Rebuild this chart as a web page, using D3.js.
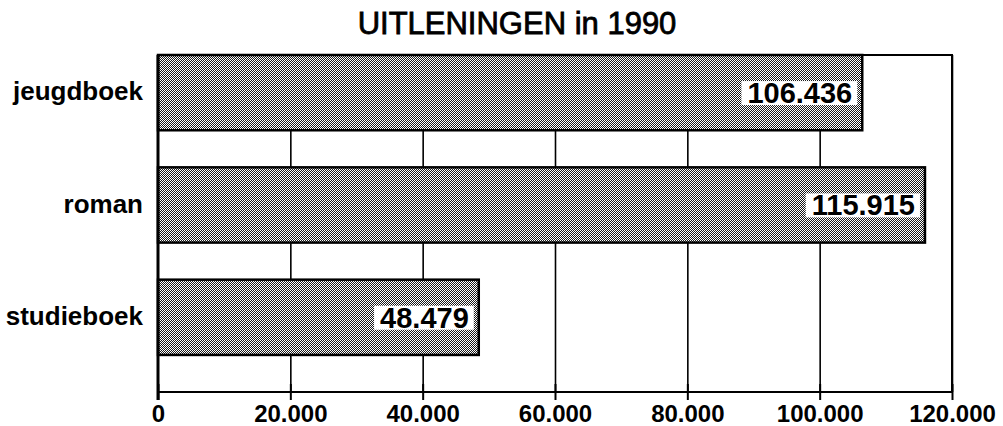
<!DOCTYPE html>
<html>
<head>
<meta charset="utf-8">
<script src="https://cdn.jsdelivr.net/npm/d3@7"></script>
<style>
    body { margin: 0; background: #fff; }
    #chart { width: 1003px; height: 426px; }
    text { font-family: "Liberation Sans", Arial, Helvetica, sans-serif; fill: #000; }
</style>
</head>
<body>
<div id="chart"></div>
<script>
// Chart data
const categories = ['jeugdboek', 'roman', 'studieboek'];
const values = [106436, 115915, 48479];
const valueLabels = ['106.436', '115.915', '48.479'];
const tickValues = [0, 20000, 40000, 60000, 80000, 100000, 120000];
const tickLabels = ['0', '20.000', '40.000', '60.000', '80.000', '100.000', '120.000'];
const title = 'UITLENINGEN in 1990';

function createBarChart(containerId = 'chart') {
    const margin = { top: 55, right: 51, bottom: 34, left: 158 };
    const width = 1003 - margin.left - margin.right;
    const height = 426 - margin.top - margin.bottom;

    const root = d3.select(`#${containerId}`)
        .append('svg')
        .attr('width', 1003)
        .attr('height', 426);

    // Dithered grey fill like the printed original
    const pattern = root.append('defs')
        .append('pattern')
        .attr('id', 'dither')
        .attr('patternUnits', 'userSpaceOnUse')
        .attr('width', 2)
        .attr('height', 2);
    pattern.append('rect').attr('width', 2).attr('height', 2).attr('fill', '#ffffff');
    pattern.append('rect').attr('x', 0).attr('y', 0).attr('width', 1).attr('height', 1).attr('fill', '#1a1a1a');
    pattern.append('rect').attr('x', 1).attr('y', 1).attr('width', 1).attr('height', 1).attr('fill', '#1a1a1a');

    const svg = root.append('g')
        .attr('transform', `translate(${margin.left},${margin.top})`);

    // Scales
    const x = d3.scaleLinear()
        .domain([0, 120000])
        .range([0, width]);

    const y = d3.scaleBand()
        .domain(categories)
        .range([0, height])
        .paddingInner(0.33)
        .paddingOuter(0.165)
        .align(0);

    // Vertical grid lines
    svg.append('g')
        .attr('class', 'grid')
        .call(d3.axisBottom(x)
            .tickValues(tickValues.slice(1))
            .tickSize(height)
            .tickFormat('')
        )
        .call(g => g.select('.domain').remove())
        .call(g => g.selectAll('line').attr('stroke', '#000').attr('stroke-width', 1.6));

    // Frame: top and right border
    svg.append('path')
        .attr('d', `M0,0H${width}V${height}`)
        .attr('fill', 'none')
        .attr('stroke', '#000')
        .attr('stroke-width', 2);

    const data = categories.map((c, i) => ({ category: c, value: values[i], label: valueLabels[i] }));

    // Bars
    svg.selectAll('.bar')
        .data(data)
        .enter()
        .append('rect')
        .attr('class', 'bar')
        .attr('x', 0)
        .attr('y', d => y(d.category))
        .attr('width', d => x(d.value))
        .attr('height', y.bandwidth())
        .attr('fill', 'url(#dither)')
        .attr('stroke', '#000')
        .attr('stroke-width', 2.5);

    // Value labels on white boxes
    const labels = svg.selectAll('.value-label')
        .data(data)
        .enter()
        .append('g')
        .attr('class', 'value-label');

    labels.append('text')
        .attr('x', d => x(d.value) - 10)
        .attr('y', d => y(d.category) + y.bandwidth() / 2)
        .attr('dy', '0.36em')
        .attr('text-anchor', 'end')
        .style('font-family', '"Liberation Sans Narrow", "Arial Narrow", sans-serif')
        .style('font-weight', 'bold')
        .style('font-size', '29px')
        .text(d => d.label)
        .each(function() {
            const bb = this.getBBox();
            d3.select(this.parentNode)
                .insert('rect', 'text')
                .attr('x', bb.x - 6)
                .attr('y', bb.y + 4)
                .attr('width', bb.width + 11)
                .attr('height', bb.height - 8)
                .attr('fill', '#fff');
        });

    // X axis
    const xAxis = svg.append('g')
        .attr('transform', `translate(0,${height})`)
        .call(d3.axisBottom(x)
            .tickValues(tickValues)
            .tickSize(8)
            .tickPadding(5)
            .tickFormat((d, i) => tickLabels[i])
        );
    xAxis.select('.domain')
        .attr('d', `M0,0H${width}`)
        .attr('stroke', '#000')
        .attr('stroke-width', 2.2);
    xAxis.selectAll('.tick line')
        .attr('y1', -8)
        .attr('stroke', '#000')
        .attr('stroke-width', 2);
    xAxis.selectAll('.tick text')
        .style('font-size', '24px')
        .style('font-weight', 'bold')
        .attr('fill', '#000');

    // Y axis
    const yAxis = svg.append('g')
        .call(d3.axisLeft(y).tickSize(0).tickPadding(15));
    yAxis.select('.domain')
        .attr('d', `M0,0V${height + 8}`)
        .attr('stroke', '#000')
        .attr('stroke-width', 3);
    yAxis.selectAll('.tick text')
        .style('font-size', '26px')
        .style('font-weight', 'bold')
        .attr('dy', '0.3em')
        .attr('fill', '#000');

    // Title
    root.append('text')
        .attr('x', 517)
        .attr('y', 34)
        .attr('text-anchor', 'middle')
        .style('font-size', '31px')
        .style('stroke', '#000')
        .style('stroke-width', 0.8)
        .text(title);
}

createBarChart();
</script>
</body>
</html>
